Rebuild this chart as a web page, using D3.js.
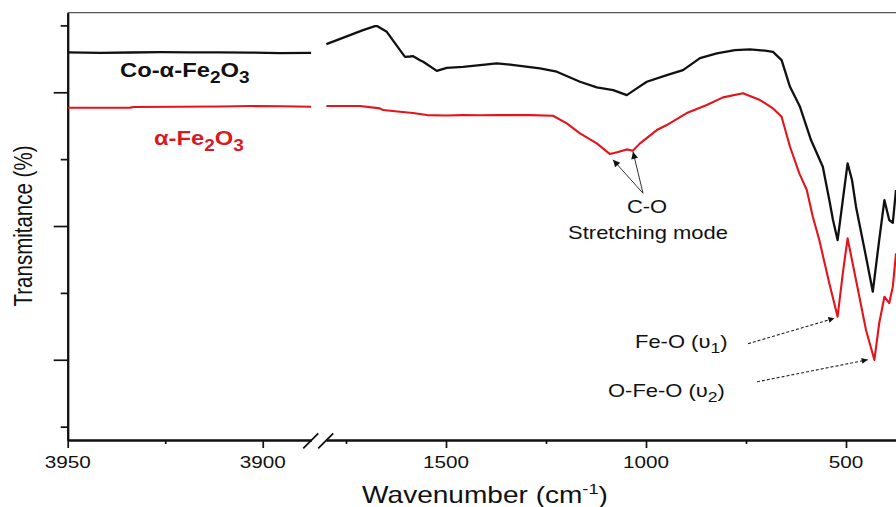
<!DOCTYPE html>
<html><head><meta charset="utf-8">
<script src="https://cdn.jsdelivr.net/npm/d3@7"></script>
<style>
body{margin:0;background:#fff}
svg{display:block}
text{font-family:"Liberation Sans",Arial,Helvetica,sans-serif}
</style>
</head><body>
<svg id="c" width="896" height="507"></svg>
<script>
// ---------------- DATA ----------------
// Co-alpha-Fe2O3 (black), left segment of the broken axis (high wavenumber)
const coLeft = [[3950,65.96],[3941.7,65.9],[3934,65.95],[3926.3,66.0],[3918.6,65.97],[3911,65.96],[3903.3,65.93],[3895.6,65.86],[3887.6,65.88]];
// alpha-Fe2O3 (red), left segment
const feLeft = [[3950,57.68],[3934,57.7],[3933,57.79],[3911,57.88],[3903,57.94],[3895,57.9],[3887.6,57.83]];
// Co-alpha-Fe2O3 (black), right segment
const coRight = [[1799,67.2],[1740,68.55],[1707.5,69.3],[1677.5,69.9],[1672.5,69.9],[1648,69.04],[1615,66.3],[1602.5,65.3],[1590,65.35],[1582,65.4],[1565,64.8],[1557,64.56],[1523,63.2],[1498,63.66],[1457.5,63.8],[1415,64.07],[1373,64.32],[1340,64.14],[1315,63.96],[1265,63.57],[1223,63.07],[1165,61.57],[1123,60.73],[1082,60.33],[1048,59.58],[1023,60.58],[998,61.57],[948,62.57],[907.5,63.32],[865,65.11],[823,65.81],[777.5,66.31],[740,66.41],[702.5,66.23],[682.5,66.05],[661,64.81],[640,60.82],[615,57.83],[587.5,52.85],[558,48.86],[541.7,43.88],[532.5,40.9],[521,37.9],[508,43.88],[496,49.37],[485,46.88],[475,42.89],[450,35.41],[433,30.18],[417,37.9],[404,43.88],[392,40.9],[383,40.49],[375,45.38]];
// alpha-Fe2O3 (red), right segment
const feRight = [[1799,57.94],[1765,57.94],[1715,57.94],[1665,57.59],[1657.5,57.34],[1615,57.09],[1582.5,56.89],[1548,56.59],[1500,56.52],[1457.5,56.59],[1415,56.56],[1365,56.59],[1290,56.59],[1232.5,56.49],[1198,55.35],[1165,53.86],[1123,52.36],[1090,50.76],[1070,51.06],[1048,51.46],[1033,51.26],[1015,52.36],[973,54.35],[948,55.1],[915,56.29],[898,56.89],[848,58.09],[807.5,59.24],[757.5,59.84],[715,58.84],[682.5,57.59],[661,56.34],[640,51.85],[616.75,47.88],[598,45.38],[583,41.39],[566.75,37.9],[541.75,31.43],[521,26.44],[508,32.93],[496,38.16],[475,31.93],[450,24.45],[429,19.97],[417,25.46],[404,29.43],[392,28.45],[383,30.93],[375,35.92]];

// tick values
const xLeftMajor = [3950, 3900];
const xLeftMinor = [3925];
const xRightMajor = [1500, 1000, 500];
const xRightMinor = [1750, 1250, 750];
const yMajor = [20, 40, 60];
const yMinor = [10, 30, 50, 70];

// annotation anchors (data units)
const coArrowFrom = [1007.5, 44.9];
const coArrowTips = [[1082.5, 49.9], [1032.5, 51.1]];
const feoArrow = {from: [745, 22.4], to: [529, 26.2]};
const ofeoArrow = {from: [722.5, 16.7], to: [445.75, 20.0]};

// ---------------- CHART ----------------
const W = 896, H = 507, SX = 1.22;
const svg = d3.select('#c');
const xL = d3.scaleLinear().domain([3950, 3887.5]).range([67.7, 311.5]);
const xR = d3.scaleLinear().domain([1800, 375]).range([326, 896]);
const y = d3.scaleLinear().domain([8, 71.9]).range([440, 12.7]);

const defs = svg.append('defs');
defs.append('clipPath').attr('id', 'clipR').append('rect')
  .attr('x', xR.range()[0] - 1).attr('y', 0).attr('width', W).attr('height', 441);
defs.append('marker').attr('id', 'ah').attr('viewBox', '0 0 10 10')
  .attr('refX', 10).attr('refY', 5).attr('markerWidth', 10).attr('markerHeight', 7)
  .attr('markerUnits', 'userSpaceOnUse').attr('orient', 'auto')
  .append('path').attr('d', 'M0,0 L10,5 L0,10 Z').attr('fill', '#111');
defs.append('marker').attr('id', 'ah2').attr('viewBox', '0 0 10 10')
  .attr('refX', 10).attr('refY', 5).attr('markerWidth', 12).attr('markerHeight', 6)
  .attr('markerUnits', 'userSpaceOnUse').attr('orient', 'auto')
  .append('path').attr('d', 'M0,0 L10,5 L0,10 Z').attr('fill', '#111');

// top frame line
svg.append('line').attr('x1', xL.range()[0]).attr('x2', W).attr('y1', y.range()[1]).attr('y2', y.range()[1])
  .attr('stroke', '#555').attr('stroke-width', 1.3);

// axes
function styleAx(g, w) {
  g.select('.domain').attr('stroke', '#111').attr('stroke-width', w || 2);
  g.selectAll('.tick line').attr('stroke', '#111').attr('stroke-width', 1.7);
  g.selectAll('.tick text').remove();
}
const gx = svg.append('g').attr('transform', `translate(0,${y.range()[0]})`);
gx.append('g').call(d3.axisBottom(xL).tickValues(xLeftMajor).tickSize(8).tickSizeOuter(0).tickFormat('')).call(styleAx);
gx.append('g').call(d3.axisBottom(xL).tickValues(xLeftMinor).tickSize(4).tickSizeOuter(0).tickFormat('')).call(styleAx);
gx.append('g').call(d3.axisBottom(xR).tickValues(xRightMajor).tickSize(8).tickSizeOuter(0).tickFormat('')).call(styleAx);
gx.append('g').call(d3.axisBottom(xR).tickValues(xRightMinor).tickSize(4).tickSizeOuter(0).tickFormat('')).call(styleAx);

const gy = svg.append('g').attr('transform', `translate(${xL.range()[0]},0)`);
gy.append('g').call(d3.axisLeft(y).tickValues(yMajor).tickSize(14).tickSizeOuter(0).tickFormat('')).call(styleAx);
gy.append('g').call(d3.axisLeft(y).tickValues(yMinor).tickSize(7).tickSizeOuter(0).tickFormat('')).call(styleAx);

// axis break marks
const bc = (xL.range()[1] + xR.range()[0]) / 2, by = y.range()[0];
[[-15.5, 0], [-0.5, 0]].forEach(([o]) => {
  svg.append('line').attr('x1', bc + o).attr('y1', by + 8.3).attr('x2', bc + o + 15).attr('y2', by - 6.7)
    .attr('stroke', '#111').attr('stroke-width', 1.8);
});

// tick labels
function stext(x, yy, anchor, size, weight, fill, parts, rot) {
  const g = svg.append('g').attr('transform', rot
    ? `translate(${x},${yy}) rotate(-90) scale(1,${SX})`
    : `translate(${x},${yy}) scale(${SX},1)`);
  const t = g.append('text').attr('text-anchor', anchor).attr('font-size', size)
    .attr('font-weight', weight).attr('fill', fill);
  let shift = 0;
  parts.forEach(p => {
    const s = t.append('tspan').text(p.t);
    let target = 0;
    if (p.sub) { target = size * 0.3; s.attr('font-size', size * 0.8); }
    if (p.sup) { target = -size * 0.4; s.attr('font-size', size * 0.65); }
    if (target !== shift) { s.attr('dy', target - shift); shift = target; }
  });
  return t;
}
xLeftMajor.forEach(v => stext(xL(v), 467.5, 'middle', 17, 'normal', '#111', [{t: String(v)}]));
xRightMajor.forEach(v => stext(xR(v), 467.5, 'middle', 17, 'normal', '#111', [{t: String(v)}]));

// axis titles
stext(485, 503, 'middle', 23, 'normal', '#111', [{t: 'Wavenumber (cm'}, {t: '-1', sup: true}, {t: ')'}]);
stext(32, 226, 'middle', 20.5, 'normal', '#111', [{t: 'Transmitance (%)'}], true);

// data lines
const lineL = d3.line().x(d => xL(d[0])).y(d => y(d[1]));
const lineR = d3.line().x(d => xR(d[0])).y(d => y(d[1]));
const series = [
  {l: coLeft, r: coRight, c: '#111', w: 2.3},
  {l: feLeft, r: feRight, c: '#e3141b', w: 2.1}
];
series.forEach(s => {
  svg.append('path').attr('d', lineL(s.l)).attr('fill', 'none').attr('stroke', s.c).attr('stroke-width', s.w).attr('stroke-linejoin', 'round');
  svg.append('path').attr('d', lineR(s.r)).attr('clip-path', 'url(#clipR)').attr('fill', 'none').attr('stroke', s.c).attr('stroke-width', s.w).attr('stroke-linejoin', 'round');
});

// series labels
stext(xL(3936.6), y(62.3), 'start', 19.5, 'bold', '#111', [{t: 'Co-\u03B1-Fe'}, {t: '2', sub: true}, {t: 'O'}, {t: '3', sub: true}]);
stext(xL(3927.9), y(52.1), 'start', 19.5, 'bold', '#d81a1f', [{t: '\u03B1-Fe'}, {t: '2', sub: true}, {t: 'O'}, {t: '3', sub: true}]);

// C-O annotation
stext(xR(997.5), y(41.9), 'middle', 18, 'normal', '#111', [{t: 'C-O'}]);
stext(xR(995), y(38.13), 'middle', 18, 'normal', '#111', [{t: 'Stretching mode'}]);
coArrowTips.forEach(tp => {
  svg.append('line').attr('x1', xR(coArrowFrom[0])).attr('y1', y(coArrowFrom[1]))
    .attr('x2', xR(tp[0])).attr('y2', y(tp[1])).attr('stroke', '#333').attr('stroke-width', 1)
    .attr('marker-end', 'url(#ah)');
});

// Fe-O annotations
stext(xR(1027.5), y(21.76), 'start', 18, 'normal', '#111', [{t: 'Fe-O (\u03C5'}, {t: '1', sub: true}, {t: ')'}]);
stext(xR(1095), y(14.44), 'start', 18, 'normal', '#111', [{t: 'O-Fe-O (\u03C5'}, {t: '2', sub: true}, {t: ')'}]);
[feoArrow, ofeoArrow].forEach(a => {
  svg.append('line').attr('x1', xR(a.from[0])).attr('y1', y(a.from[1]))
    .attr('x2', xR(a.to[0])).attr('y2', y(a.to[1])).attr('stroke', '#222').attr('stroke-width', 1.1)
    .attr('stroke-dasharray', '3,2').attr('marker-end', 'url(#ah2)');
});
</script>
</body></html>
